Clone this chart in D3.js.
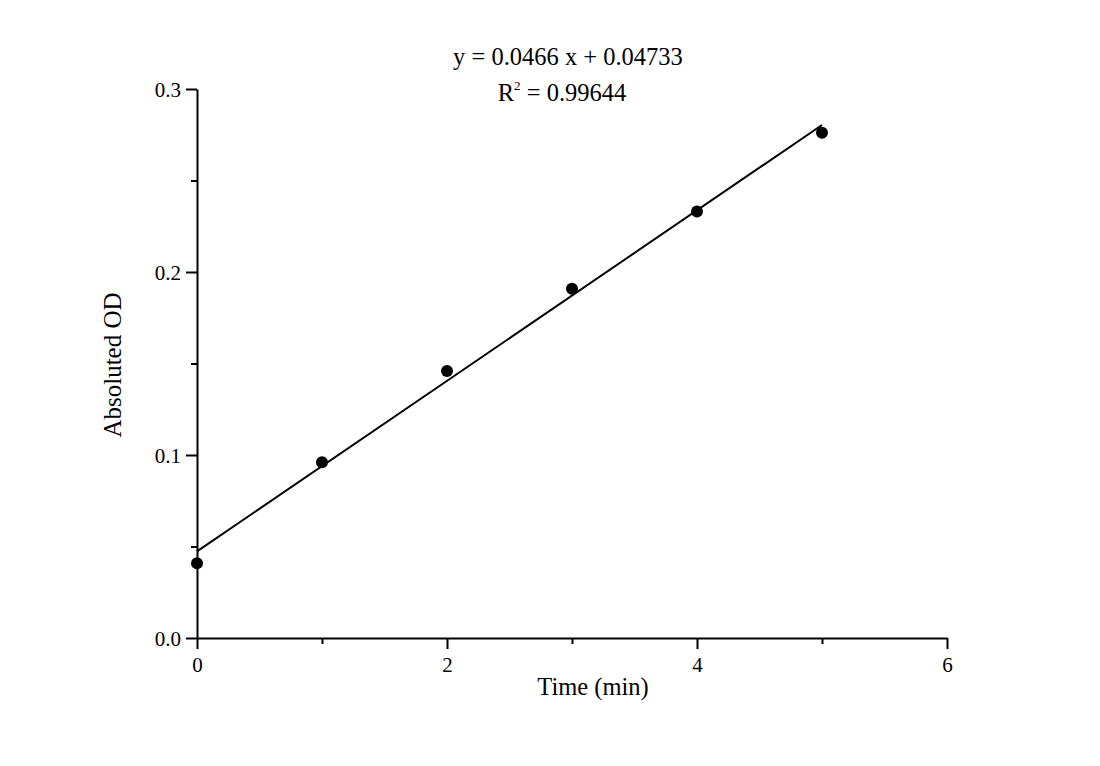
<!DOCTYPE html>
<html><head><meta charset="utf-8">
<script src="https://cdn.jsdelivr.net/npm/d3@7"></script>
<style>body{margin:0;background:#fff}svg{display:block}text{font-family:"Liberation Serif","Times New Roman",serif;fill:#000}</style>
</head><body>
<svg id="c" width="1100" height="766"></svg>
<script>
const timeMin = [0, 1, 2, 3, 4, 5];
const absOD = [0.0408, 0.0960, 0.1459, 0.1909, 0.2330, 0.2761];
const slope = 0.0466, intercept = 0.04733;
const xTicks = [0, 2, 4, 6];
const yTicks = [0.0, 0.1, 0.2, 0.3];
const equationText = "y = 0.0466 x + 0.04733";
const r2Value = "0.99644";

const svg = d3.select("#c");
const x = d3.scaleLinear().domain([0, 6]).range([197, 947]);
const y = d3.scaleLinear().domain([0, 0.3]).range([638, 89]);

// minor ticks
const g = svg.append("g");
g.append("g").attr("transform","translate(0,638)")
  .call(d3.axisBottom(x).tickValues([1,3,5]).tickSize(6).tickFormat(""))
  .call(s=>s.select(".domain").remove())
  .selectAll("line").attr("stroke","#000").attr("stroke-width",2);
g.append("g").attr("transform","translate(197,0)")
  .call(d3.axisLeft(y).tickValues([0.05,0.15,0.25]).tickSize(6).tickFormat(""))
  .call(s=>s.select(".domain").remove())
  .selectAll("line").attr("stroke","#000").attr("stroke-width",2);

const xa = svg.append("g").attr("transform","translate(0,638)")
  .call(d3.axisBottom(x).tickValues(xTicks).tickSize(11).tickSizeOuter(0).tickPadding(4).tickFormat(d3.format("d")));
const ya = svg.append("g").attr("transform","translate(197,0)")
  .call(d3.axisLeft(y).tickValues(yTicks).tickSize(11).tickSizeOuter(0).tickPadding(5).tickFormat(d3.format(".1f")));
[xa, ya].forEach(a=>{
  a.select(".domain").attr("stroke","#000").attr("stroke-width",2);
  a.selectAll(".tick line").attr("stroke","#000").attr("stroke-width",2);
  a.selectAll(".tick text").attr("font-size",21).attr("font-family","Liberation Serif").attr("fill","#000");
});
xa.selectAll(".tick text").attr("dy","0.9em");
ya.selectAll(".tick text").attr("dy","0.35em");

// fit line
svg.append("line")
  .attr("x1", x(0)).attr("y1", y(intercept))
  .attr("x2", x(5)).attr("y2", y(intercept + slope*5))
  .attr("stroke","#000").attr("stroke-width",2);

// points
svg.selectAll("circle.p").data(timeMin).enter().append("circle")
  .attr("cx", (d)=>x(d)).attr("cy", (d,i)=>y(absOD[i])).attr("r",6).attr("fill","#000");

// labels
svg.append("text").attr("x",593).attr("y",695).attr("text-anchor","middle").attr("font-size",24.5).text("Time (min)");
svg.append("text").attr("transform","translate(112,365) rotate(-90)").attr("text-anchor","middle").attr("dy","0.35em").attr("font-size",25).text("Absoluted OD");

svg.append("text").attr("x",568).attr("y",65).attr("text-anchor","middle").attr("font-size",24.5).text(equationText);
const r2 = svg.append("text").attr("x",562).attr("y",101).attr("text-anchor","middle").attr("font-size",24.5);
r2.append("tspan").text("R");
r2.append("tspan").attr("font-size",13).attr("dy",-11).text("2");
r2.append("tspan").attr("dy",11).text(" = " + r2Value);
</script>
</body></html>
